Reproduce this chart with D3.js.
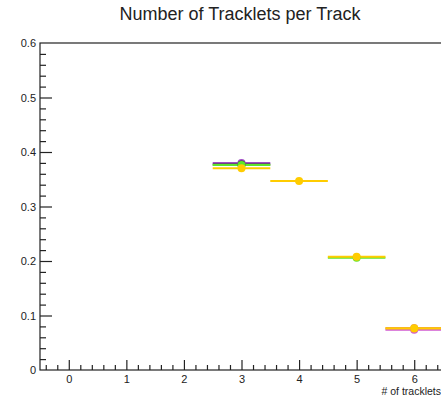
<!DOCTYPE html>
<html>
<head>
<meta charset="utf-8">
<script src="https://cdn.jsdelivr.net/npm/d3@7"></script>
<style>
  html, body { margin: 0; padding: 0; background: #fff; }
  svg { display: block; font-family: "Liberation Sans", Arial, Helvetica, sans-serif; }
</style>
</head>
<body>
<svg id="chart" width="441" height="403"></svg>
<script>
// Fraction of tracks by number of tracklets, one histogram per sample.
const binCenters = [3, 4, 5, 6];
const purpleValues  = [0.380, null, null, null];
const darkValues    = [0.377, null, null, null];
const greenValues   = [0.376, null, 0.206, null];
const magentaValues = [null, null, null, 0.074];
const orangeValues  = [null, null, null, 0.077];
const yellowValues  = [0.370, 0.347, 0.208, 0.076];

const xTickValues = [0, 1, 2, 3, 4, 5, 6];
const yTickValues = [0, 0.1, 0.2, 0.3, 0.4, 0.5, 0.6];

const titleText = "Number of Tracklets per Track";
const xTitleText = "# of tracklets";

const seriesList = [
  { name: "purple",  values: purpleValues,  color: "#a24fc6" },
  { name: "dark",    values: darkValues,    color: "#3b3b3b" },
  { name: "green",   values: greenValues,   color: "#5ee62a" },
  { name: "magenta", values: magentaValues, color: "#d05ad0" },
  { name: "orange",  values: orangeValues,  color: "#f2a43a" },
  { name: "yellow",  values: yellowValues,  color: "#ffcc00" }
];

const frame = { left: 40, right: 443, top: 43, bottom: 370 };
const svg = d3.select("#chart");

const x = d3.scaleLinear().domain([-0.5, 6.5]).range([frame.left, frame.right]);
const y = d3.scaleLinear().domain([0, 0.6]).range([frame.bottom, frame.top]);

// Frame box
svg.append("rect")
  .attr("x", frame.left).attr("y", frame.top)
  .attr("width", frame.right - frame.left).attr("height", frame.bottom - frame.top)
  .attr("fill", "none").attr("stroke", "#222").attr("stroke-width", 1.2);

// Bottom axis: minor ticks every 0.2, major at integers
const xMinor = d3.range(-0.4, 6.5, 0.2).map(v => +v.toFixed(2))
  .filter(v => Math.abs(v - Math.round(v)) > 1e-6);
svg.append("g")
  .attr("transform", `translate(0,${frame.bottom})`)
  .call(d3.axisBottom(x).tickValues(xMinor).tickSize(-5).tickSizeOuter(0).tickFormat(""))
  .call(g => g.select(".domain").remove())
  .call(g => g.selectAll("line").attr("stroke", "#222").attr("stroke-width", 1.2));
svg.append("g")
  .attr("transform", `translate(0,${frame.bottom})`)
  .call(d3.axisBottom(x).tickValues(xTickValues).tickSize(-10).tickSizeOuter(0)
    .tickPadding(5).tickFormat(d3.format("d")))
  .call(g => g.select(".domain").remove())
  .call(g => g.selectAll("line").attr("stroke", "#222").attr("stroke-width", 1.2))
  .call(g => g.selectAll("text").attr("fill", "#222").attr("font-size", "11px")
    .attr("font-family", "Liberation Sans, Arial, sans-serif"));

// Left axis: minor ticks every 0.02, major every 0.1
const yMinor = d3.range(0.02, 0.6, 0.02).map(v => +v.toFixed(2))
  .filter(v => Math.abs(v * 10 - Math.round(v * 10)) > 1e-6);
svg.append("g")
  .attr("transform", `translate(${frame.left},0)`)
  .call(d3.axisLeft(y).tickValues(yMinor).tickSize(-6).tickSizeOuter(0).tickFormat(""))
  .call(g => g.select(".domain").remove())
  .call(g => g.selectAll("line").attr("stroke", "#222").attr("stroke-width", 1.2));
svg.append("g")
  .attr("transform", `translate(${frame.left},0)`)
  .call(d3.axisLeft(y).tickValues(yTickValues).tickSize(-12).tickSizeOuter(0)
    .tickPadding(4).tickFormat(d => d === 0 ? "0" : d3.format(".1f")(d)))
  .call(g => g.select(".domain").remove())
  .call(g => g.selectAll("line").attr("stroke", "#222").attr("stroke-width", 1.2))
  .call(g => g.selectAll("line").filter(d => d === 0 || d === 0.6).remove())
  .call(g => g.selectAll("text").attr("fill", "#222").attr("font-size", "11px")
    .attr("font-family", "Liberation Sans, Arial, sans-serif"));

// Histogram bins: horizontal bar spanning the bin width plus a marker at the center
const binHalf = 0.5;
const marks = svg.append("g");
seriesList.forEach(s => {
  const pts = binCenters.map((c, i) => ({ c, v: s.values[i] })).filter(p => p.v != null);
  const g = marks.append("g").attr("class", "series-" + s.name);
  g.selectAll("line").data(pts).join("line")
    .attr("x1", p => x(p.c - binHalf)).attr("x2", p => x(p.c + binHalf))
    .attr("y1", p => y(p.v)).attr("y2", p => y(p.v))
    .attr("stroke", s.color).attr("stroke-width", 2);
});
seriesList.forEach(s => {
  const pts = binCenters.map((c, i) => ({ c, v: s.values[i] })).filter(p => p.v != null);
  marks.append("g").selectAll("circle").data(pts).join("circle")
    .attr("cx", p => x(p.c)).attr("cy", p => y(p.v)).attr("r", 4)
    .attr("fill", s.color);
});

// Titles
svg.append("text")
  .attr("x", 240).attr("y", 20)
  .attr("text-anchor", "middle")
  .attr("font-size", "18px").attr("fill", "#222")
  .text(titleText);

svg.append("text")
  .attr("x", 441).attr("y", 395)
  .attr("text-anchor", "end")
  .attr("font-size", "10.5px").attr("fill", "#222")
  .text(xTitleText);
</script>
</body>
</html>
